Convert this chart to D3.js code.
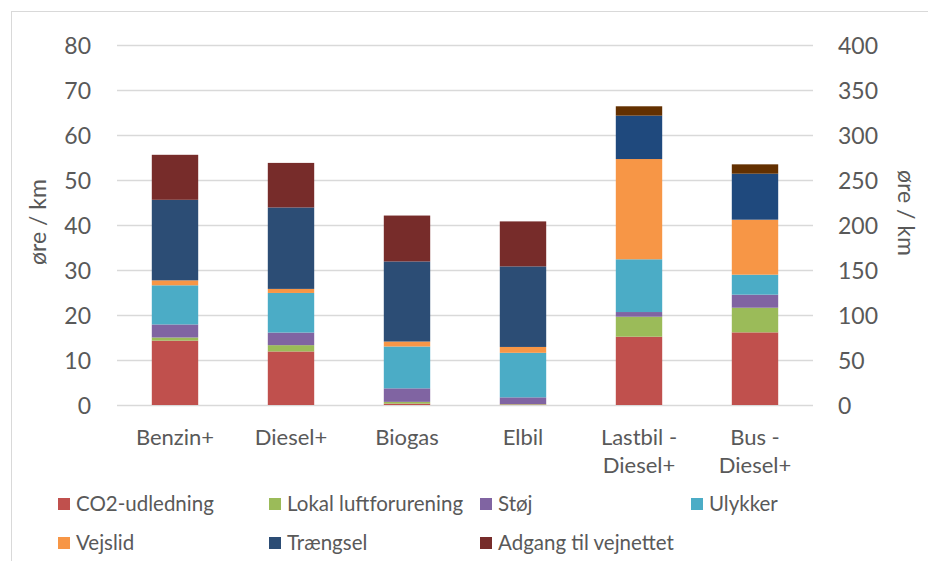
<!DOCTYPE html>
<html>
<head>
<meta charset="utf-8">
<script src="https://cdn.jsdelivr.net/npm/d3@7"></script>
<style>
  body { margin: 0; background: #fff; }
  text { font-family: Lato, "Open Sans", sans-serif; fill: #595959; }
</style>
</head>
<body>
<svg id="chart"></svg>
<script>
// categories; the last two are drawn on the secondary (right) axis
var categories = ["Benzin+", "Diesel+", "Biogas", "Elbil", "Lastbil -\nDiesel+", "Bus -\nDiesel+"];
var onRightAxis = [false, false, false, false, true, true];

var seriesNames = ["CO2-udledning", "Lokal luftforurening", "Støj", "Ulykker", "Vejslid", "Trængsel", "Adgang til vejnettet"];

// øre / km (left axis units for cars, right axis units for Lastbil and Bus)
var co2      = [14.3, 11.9, 0.3, 0.1, 75.9, 80.7];
var lokal    = [0.7, 1.4, 0.4, 0.1, 22.2, 27.4];
var stoj     = [2.9, 2.8, 3.0, 1.5, 5.2, 14.5];
var ulykker  = [8.7, 8.8, 9.3, 9.9, 58.6, 22.2];
var vejslid  = [1.1, 0.9, 1.1, 1.3, 111.4, 61.1];
var traengsel = [17.9, 18.1, 17.8, 17.9, 48.2, 51.1];
var adgang   = [10.0, 9.9, 10.2, 10.0, 10.4, 10.4];

var leftTicks = [0, 10, 20, 30, 40, 50, 60, 70, 80];
var rightTicks = [0, 50, 100, 150, 200, 250, 300, 350, 400];

var colors = ["#C0504D", "#9BBB59", "#8064A2", "#4BACC6", "#F79646", "#2C4D75", "#772C2A"];
var colorsRight = ["#C0504D", "#9BBB59", "#8064A2", "#4BACC6", "#F79646", "#1F497D", "#633000"];

var width = 928, height = 561;
var svg = d3.select("#chart").attr("width", width).attr("height", height);

// chart border
svg.append("rect")
  .attr("x", 11.5).attr("y", 11.5)
  .attr("width", 930).attr("height", 560)
  .attr("fill", "none").attr("stroke", "#D9D9D9");

var x = d3.scaleBand().domain(categories).range([117, 813]).paddingInner(0.6).paddingOuter(0.3);
var yLeft = d3.scaleLinear().domain([0, 80]).range([405, 45]);
var yRight = d3.scaleLinear().domain([0, 400]).range([405, 45]);

// gridlines
svg.append("g").selectAll("line")
  .data(leftTicks)
  .join("line")
  .attr("x1", 117).attr("x2", 813)
  .attr("y1", d => Math.round(yLeft(d)) + 0.5)
  .attr("y2", d => Math.round(yLeft(d)) + 0.5)
  .attr("stroke", "#D9D9D9").attr("stroke-width", 1.3);

// stacked data
var table = categories.map(function(c, i) {
  return {
    cat: c, right: onRightAxis[i],
    "CO2-udledning": co2[i], "Lokal luftforurening": lokal[i], "Støj": stoj[i],
    "Ulykker": ulykker[i], "Vejslid": vejslid[i], "Trængsel": traengsel[i],
    "Adgang til vejnettet": adgang[i]
  };
});
var stacked = d3.stack().keys(seriesNames)(table);

svg.append("g").selectAll("g")
  .data(stacked)
  .join("g")
  .each(function(layer, k) {
    d3.select(this).selectAll("rect")
      .data(layer)
      .join("rect")
      .attr("x", d => x(d.data.cat))
      .attr("width", x.bandwidth())
      .attr("y", d => (d.data.right ? yRight : yLeft)(d[1]))
      .attr("height", d => {
        var y = d.data.right ? yRight : yLeft;
        return y(d[0]) - y(d[1]);
      })
      .attr("fill", d => d.data.right ? colorsRight[k] : colors[k]);
  });

// left axis
var axL = svg.append("g")
  .attr("transform", "translate(91,0)")
  .call(d3.axisLeft(yLeft).tickValues(leftTicks).tickSize(0).tickPadding(0));
axL.select(".domain").remove();
axL.selectAll("text").style("font-size", "23px").attr("dy", "0.35em");

// right axis
var axR = svg.append("g")
  .attr("transform", "translate(838,0)")
  .call(d3.axisRight(yRight).tickValues(rightTicks).tickSize(0).tickPadding(0));
axR.select(".domain").remove();
axR.selectAll("text").style("font-size", "23px").attr("dy", "0.35em");

// axis titles
svg.append("text")
  .attr("transform", "translate(38,222) rotate(-90)")
  .attr("text-anchor", "middle").attr("dy", "0.35em")
  .style("font-size", "23px")
  .text("øre / km");
svg.append("text")
  .attr("transform", "translate(906,213) rotate(90)")
  .attr("text-anchor", "middle").attr("dy", "0.35em")
  .style("font-size", "23px")
  .text("øre / km");

// category labels
svg.append("g").selectAll("text")
  .data(categories)
  .join("text")
  .attr("x", d => x(d) + x.bandwidth() / 2)
  .attr("y", 437)
  .attr("text-anchor", "middle")
  .style("font-size", "22px")
  .each(function(d) {
    var lines = d.split("\n");
    var t = d3.select(this);
    lines.forEach(function(l, j) {
      t.append("tspan")
        .attr("x", x(d) + x.bandwidth() / 2)
        .attr("dy", j === 0 ? "0.35em" : "28px")
        .text(l);
    });
  });

// legend
var legendX = [58, 269, 480, 691];
var legendY = [504, 543];
var legend = svg.append("g").selectAll("g")
  .data(seriesNames)
  .join("g")
  .attr("transform", (d, i) => "translate(" + legendX[i % 4] + "," + legendY[Math.floor(i / 4)] + ")");
legend.append("rect")
  .attr("x", 0).attr("y", -6)
  .attr("width", 12).attr("height", 12)
  .attr("fill", (d, i) => colors[i]);
legend.append("text")
  .attr("x", 18).attr("dy", "0.35em")
  .style("font-size", "20.5px")
  .text(d => d);
</script>
</body>
</html>
